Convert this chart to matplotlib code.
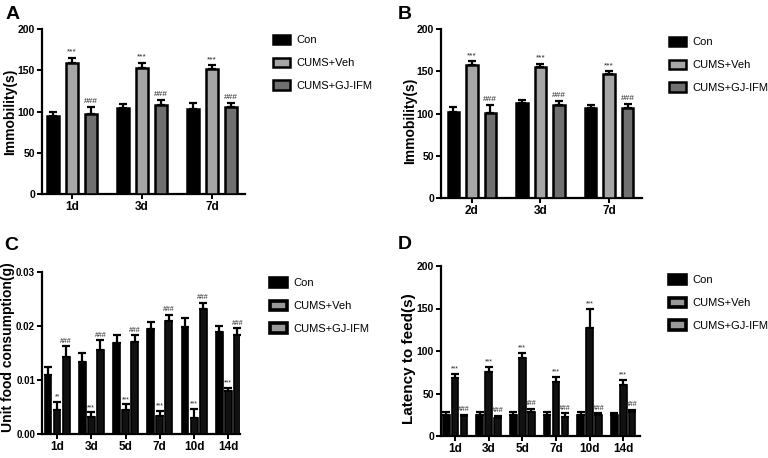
import matplotlib
matplotlib.use("Agg")
import matplotlib.pyplot as plt
from matplotlib.patches import Patch
import numpy as np

plt.rcParams['font.family'] = ['Liberation Sans', 'DejaVu Sans']

groups = ['Con', 'CUMS+Veh', 'CUMS+GJ-IFM']

# Panel A
a_days = ['1d', '3d', '7d']
a_con = [94, 104, 103]
a_con_err = [5, 5, 7]
a_veh = [159, 153, 151]
a_veh_err = [6, 6, 5]
a_gj = [97, 108, 105]
a_gj_err = [8, 6, 5]

# Panel B
b_days = ['2d', '3d', '7d']
b_con = [102, 112, 107]
b_con_err = [6, 4, 3]
b_veh = [157, 155, 147]
b_veh_err = [5, 4, 3]
b_gj = [101, 110, 106]
b_gj_err = [9, 5, 5]

# Panel C
c_days = ['1d', '3d', '5d', '7d', '10d', '14d']
c_con = [0.0110, 0.0133, 0.0168, 0.0195, 0.0198, 0.0188]
c_con_err = [0.0015, 0.0017, 0.0015, 0.0012, 0.0017, 0.0012]
c_veh = [0.0045, 0.0032, 0.0045, 0.0034, 0.0030, 0.0079]
c_veh_err = [0.0015, 0.0008, 0.0010, 0.0009, 0.0016, 0.0006]
c_gj = [0.0143, 0.0156, 0.0170, 0.0209, 0.0231, 0.0183]
c_gj_err = [0.0020, 0.0018, 0.0013, 0.0012, 0.0012, 0.0013]
c_veh_sig = ['**', '***', '***', '***', '***', '***']

# Panel D
d_days = ['1d', '3d', '5d', '7d', '10d', '14d']
d_con = [25, 25, 25, 25, 25, 25]
d_con_err = [3, 3, 3, 3, 3, 2]
d_veh = [68, 75, 92, 64, 127, 60]
d_veh_err = [5, 6, 6, 6, 23, 6]
d_gj = [23, 21, 28, 22, 25, 28]
d_gj_err = [2, 3, 4, 5, 2, 3]

W, H = 768, 458
fig = plt.figure(figsize=(W / 100, H / 100), dpi=100)


def frac(l, r, t, b):
    return [l / W, 1 - b / H, (r - l) / W, (b - t) / H]


def panel(box, days, series, errs, sigs, ylim, yticks, yfmt, ylabel, ylsize, ylab_xy,
          xlim, width, step, faces, elw, sigsize, sigpad, ytick_fs, xtick_fs):
    l, r, t, b = box
    ax = fig.add_axes(frac(l, r, t, b))
    x = np.arange(len(days))
    for i, (vals, err, fc) in enumerate(zip(series, errs, faces)):
        pos = x + (i - 1) * step
        ax.bar(pos, vals, width=width, color=fc, edgecolor='black', linewidth=elw,
               zorder=3)
        ax.errorbar(pos, vals, yerr=[np.zeros(len(vals)), err], fmt='none',
                    ecolor='black', elinewidth=1.6, capsize=2.8, capthick=1.6,
                    zorder=2)
        if sigs[i] is not None:
            for p, v, e, s in zip(pos, vals, err, sigs[i]):
                ax.annotate(s, (p, v + e), xytext=(0, sigpad), textcoords='offset points',
                            ha='center', va='bottom', fontsize=sigsize, color='#222222')
    ax.set_xlim(*xlim)
    ax.set_ylim(*ylim)
    ax.set_yticks(yticks)
    ax.set_yticklabels([yfmt.format(v) for v in yticks], fontweight='bold', fontsize=ytick_fs)
    ax.set_xticks(x)
    ax.set_xticklabels(days, fontweight='bold', fontsize=xtick_fs)
    ax.set_ylabel(ylabel, fontweight='bold', fontsize=ylsize)
    lx, ly = ylab_xy
    ax.yaxis.set_label_coords((lx - l) / (r - l), (b - ly) / (b - t))
    for s in ['top', 'right']:
        ax.spines[s].set_visible(False)
    for s in ['left', 'bottom']:
        ax.spines[s].set_linewidth(1.6)
    ax.tick_params(axis='both', width=1.4, length=3.5, pad=1.5)
    return ax


def legend(ax, x_px, y_px, handle_faces, hlw):
    handles = [Patch(facecolor=f, edgecolor='black', linewidth=hlw) for f in handle_faces]
    ax.legend(handles, groups, loc='upper left',
              bbox_to_anchor=(x_px / W, 1 - y_px / H), bbox_transform=fig.transFigure,
              frameon=False, fontsize=8, handlelength=1.5, handleheight=0.9,
              handletextpad=0.6, labelspacing=1.1, borderpad=0, borderaxespad=0)


ab_faces = ['black', '#a6a6a6', '#707070']
cd_faces = ['black', '#111111', '#111111']

axA = panel((42, 245, 29, 194), a_days, [a_con, a_veh, a_gj],
            [a_con_err, a_veh_err, a_gj_err],
            [None, ['***'] * 3, ['###'] * 3], (0, 200), [0, 50, 100, 150, 200], '{:d}',
            'Immobility(s)', 10, (17, 112), (-0.43, 2.47), 0.17, 0.27, ab_faces, 1.8, 6, 1.5,
            7.5, 8.5)
legend(axA, 273, 35, ab_faces, 1.8)

axB = panel((441, 642, 29, 198), b_days, [b_con, b_veh, b_gj],
            [b_con_err, b_veh_err, b_gj_err],
            [None, ['***'] * 3, ['###'] * 3], (0, 200), [0, 50, 100, 150, 200], '{:d}',
            'Immobility(s)', 10, (417, 121), (-0.45, 2.48), 0.17, 0.27, ab_faces, 1.8, 6, 1.5,
            7.5, 8.5)
legend(axB, 669, 37, ab_faces, 1.8)

axC = panel((42, 240, 272, 434), c_days, [c_con, c_veh, c_gj],
            [c_con_err, c_veh_err, c_gj_err],
            [None, c_veh_sig, ['###'] * 6], (0, 0.03), [0.0, 0.01, 0.02, 0.03], '{:.2f}',
            'Unit food consumption(g)', 10, (15, 347), (-0.44, 5.34), 0.2, 0.265, cd_faces,
            1.2, 5, 1, 7, 8.5)
legend(axC, 270, 278, ['black', '#999999', '#999999'], 2.6)

axD = panel((441, 640, 266, 436), d_days, [d_con, d_veh, d_gj],
            [d_con_err, d_veh_err, d_gj_err],
            [None, ['***'] * 6, ['###'] * 6], (0, 200), [0, 50, 100, 150, 200], '{:d}',
            'Latency to feed(s)', 11, (416, 359), (-0.42, 5.5), 0.2, 0.265, cd_faces,
            1.2, 5, 1, 7.5, 8.5)
legend(axD, 669, 275, ['black', '#999999', '#999999'], 2.6)

for lbl, xp, yp in [('A', 6, 6), ('B', 398, 6), ('C', 4, 237), ('D', 398, 236)]:
    fig.text(xp / W, 1 - yp / H, lbl, fontsize=14, fontweight='bold', va='top', ha='left')

fig.savefig('out.png', dpi=100)
